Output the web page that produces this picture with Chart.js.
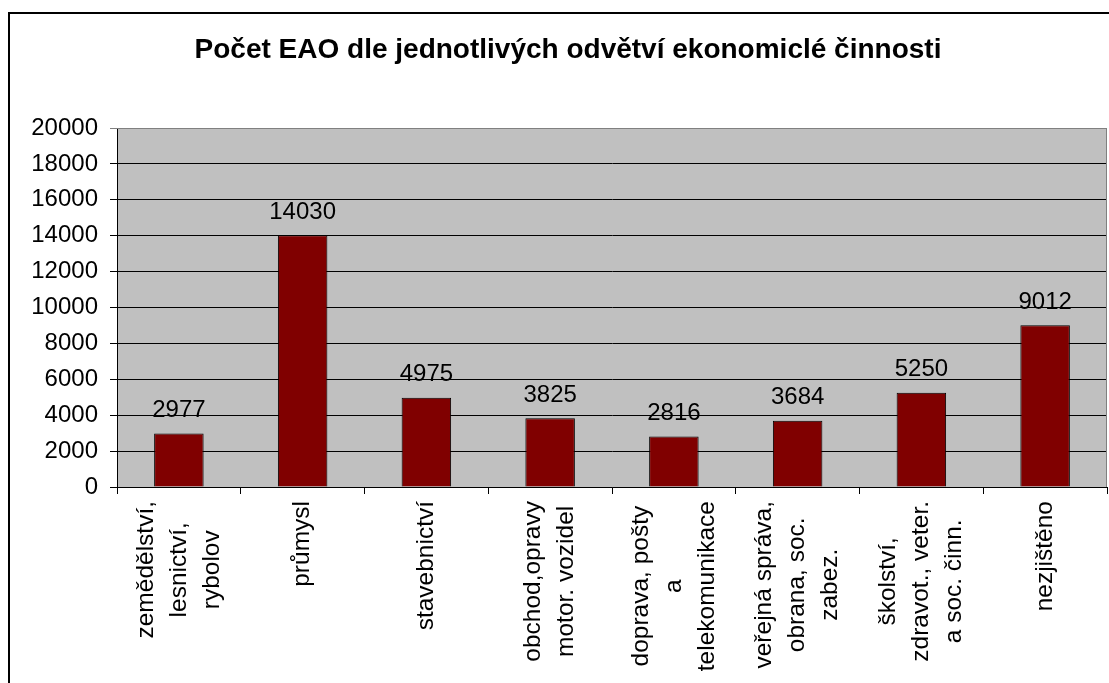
<!DOCTYPE html>
<html>
<head>
<meta charset="utf-8">
<script src="https://cdn.jsdelivr.net/npm/chart.js@4/dist/chart.umd.min.js"></script>
<style>
body { margin: 0; background: #fff; overflow: hidden; }
#box { position: absolute; left: 8px; top: 12px; border-left: 2px solid #000; border-top: 2px solid #000; }
canvas { display: block; }
</style>
</head>
<body>
<div id="box"><canvas id="mycanvas" width="1116" height="669"></canvas></div>
<script>
var title = "Počet EAO dle jednotlivých odvětví ekonomiclé činnosti";
var categories = [
	["zemědělství,", "lesnictví,", "rybolov"],
	["průmysl"],
	["stavebnictví"],
	["obchod,opravy", "motor. vozidel"],
	["doprava, pošty", "a", "telekomunikace"],
	["veřejná správa,", "obrana, soc.", "zabez."],
	["školství,", "zdravot., veter.", "a soc. činn."],
	["nezjištěno"]
];
var values = [2977, 14030, 4975, 3825, 2816, 3684, 5250, 9012];
var yTicks = [0, 2000, 4000, 6000, 8000, 10000, 12000, 14000, 16000, 18000, 20000];

var font = 'Arial, "Liberation Sans", sans-serif';

// plot background, title, value labels, rotated category labels
var extras = {
	id: 'extras',
	beforeDraw: function(chart){
		var c = chart.ctx, a = chart.chartArea;
		c.save();
		c.fillStyle = "#C0C0C0";
		c.fillRect(a.left, a.top, a.right - a.left, a.bottom - a.top);
		c.fillStyle = "#000";
		c.font = "bold 28px " + font;
		c.textAlign = "center";
		c.textBaseline = "middle";
		c.fillText(title, chart.width / 2, 36);
		c.restore();
	},
	afterDraw: function(chart){
		var c = chart.ctx, a = chart.chartArea;
		var meta = chart.getDatasetMeta(0);
		var xs = chart.scales.x;
		c.save();
		// grey plot border top/right
		c.strokeStyle = "#808080";
		c.lineWidth = 1;
		c.beginPath();
		c.moveTo(a.left, a.top + 0.5);
		c.lineTo(a.right - 0.5, a.top + 0.5);
		c.lineTo(a.right - 0.5, a.bottom);
		c.stroke();

		c.fillStyle = "#000";
		c.font = "24px " + font;
		c.textAlign = "center";
		c.textBaseline = "middle";
		for(var i in values){
			var bar = meta.data[i];
			c.fillText(String(values[i]), bar.x, bar.y - 23);
		}

		c.font = "24.5px " + font;
		var lh = 33;
		for(var i = 0; i < categories.length; i++){
			var lines = categories[i];
			var x0 = xs.getPixelForValue(i);
			var maxW = 0;
			for(var j in lines){
				maxW = Math.max(maxW, c.measureText(lines[j]).width);
			}
			var yc = a.bottom + 14 + maxW / 2;
			for(var j = 0; j < lines.length; j++){
				var x = x0 + (j - (lines.length - 1) / 2) * lh;
				c.save();
				c.translate(x, yc);
				c.rotate(-Math.PI / 2);
				c.fillText(lines[j], 0, 0);
				c.restore();
			}
		}
		c.restore();
	}
};

var chartdata = {
	labels: categories.map(function(l){ return l.join(" "); }),
	datasets: [
	{
		label: "EAO",
		data: values,
		backgroundColor: "#800000",
		borderColor: "#000000",
		borderWidth: 1,
		barPercentage: 0.4,
		categoryPercentage: 1
	}
	]
};

var ctx = document.getElementById("mycanvas");
var BarGraph = new Chart(ctx, {
	type: 'bar',
	data: chartdata,
	plugins: [extras],
	options: {
		responsive: false,
		animation: false,
		layout: { padding: { top: 114, right: 19, left: 0, bottom: 0 } },
		plugins: {
			legend: { display: false },
			title: { display: false },
			tooltip: { enabled: false }
		},
		scales: {
			x: {
				afterFit: function(s){ s.height = 196; },
				ticks: { display: false },
				grid: {
					offset: true,
					drawOnChartArea: false,
					drawTicks: true,
					tickLength: 7,
					color: "#000"
				},
				border: { color: "#000", width: 1 }
			},
			y: {
				min: 0,
				max: 20000,
				afterFit: function(s){ s.width = 107; },
				afterBuildTicks: function(s){
					s.ticks = yTicks.map(function(v){ return { value: v }; });
				},
				ticks: {
					color: "#000",
					padding: 12,
					font: { size: 24, family: font },
					callback: function(v){ return String(v); }
				},
				grid: {
					tickLength: 7,
					color: function(c){ return c.tick && c.tick.value === 20000 ? "#808080" : "#000"; }
				},
				border: { color: "#000", width: 1 }
			}
		}
	}
});
</script>
</body>
</html>
